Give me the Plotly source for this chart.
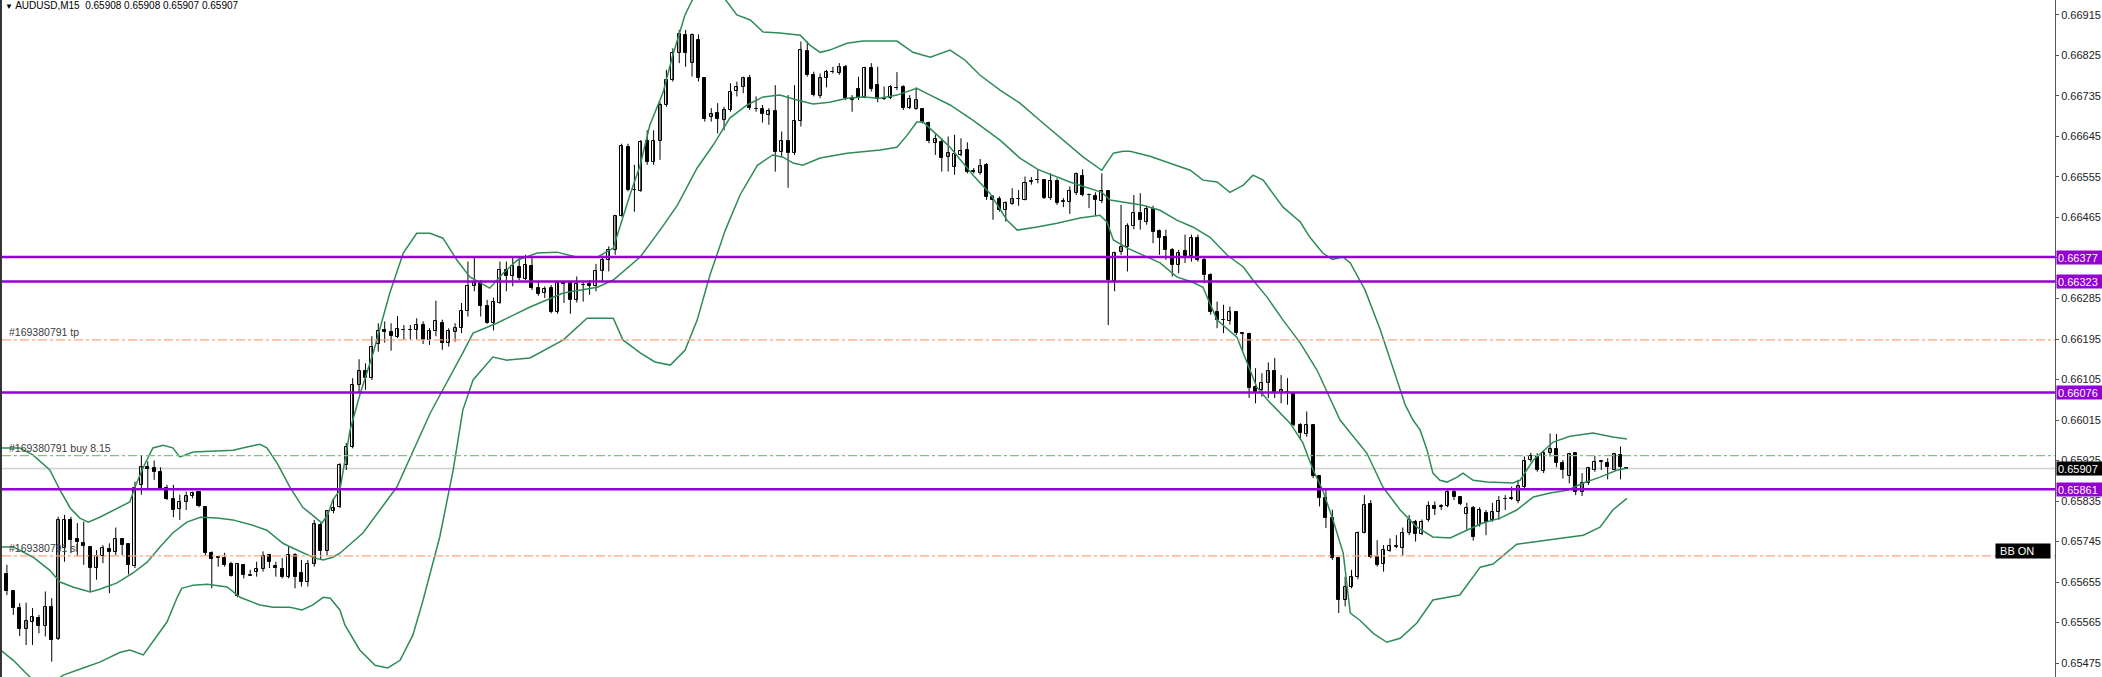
import plotly.graph_objects as go

PT = 1e-5  # values below are in price points (0.00001)

opens = [
    65617,65673,65634,65598,65551,65567,65576,65557,65600,65528,
    65730,65793,65750,65741,65732,65686,65713,65729,65721,65751,
    65739,65691,65871,65910,65908,65900,65863,65840,65817,65832,
    65847,65854,65821,65719,65710,65708,65695,65623,65693,65669,
    65678,65683,65714,65691,65683,65667,65714,65676,65656,65695,
    65782,65723,65812,65821,65915,65954,66092,66125,66108,66184,
    66214,66210,66199,66215,66214,66214,66225,66193,66213,66230,
    66186,66210,66219,66258,66313,66319,66269,66230,66275,66349,
    66334,66356,66328,66358,66308,66298,66308,66256,66321,66319,
    66281,66315,66317,66312,66345,66371,66393,66469,66621,66526,
    66524,66634,66589,66635,66716,66771,66830,66871,66808,66859,
    66774,66689,66698,66681,66704,66745,66754,66774,66706,66705,
    66692,66702,66610,66635,66608,66679,66835,66782,66736,66774,
    66788,66786,66800,66730,66751,66732,66798,66759,66730,66731,
    66752,66754,66709,66707,66706,66674,66630,66632,66599,66578,
    66604,66615,66569,66563,66582,66510,66506,66481,66495,66506,
    66504,66544,66548,66549,66508,66547,66500,66500,66519,66558,
    66514,66513,66501,66523,66324,66389,66399,66445,66476,66454,
    66484,66435,66421,66393,66360,66390,66380,66419,66370,66338,
    66256,66238,66236,66254,66208,66207,66088,66082,66097,66123,
    66076,66078,66073,66004,65984,66004,65890,65841,65797,65708,
    65616,65645,65667,65765,65828,65710,65695,65725,65733,65730,
    65765,65789,65762,65793,65824,65822,65824,65854,65843,65806,
    65819,65782,65809,65793,65811,65839,65840,65834,65867,65926,
    65935,65902,65942,65950,65919,65890,65941,65856,65874,65905,
    65922,65920,65905,65937,65908,
]
highs = [
    65678,65693,65636,65608,65609,65597,65582,65634,65619,65800,
    65804,65800,65786,65789,65734,65726,65737,65741,65776,65752,
    65741,65878,65937,65923,65925,65910,65871,65871,65849,65856,
    65856,65856,65823,65723,65712,65720,65700,65695,65695,65682,
    65700,65723,65715,65700,65708,65734,65719,65704,65704,65793,
    65786,65815,65841,65919,65964,66108,66150,66141,66201,66230,
    66234,66230,66246,66226,66226,66241,66234,66219,66280,66238,
    66219,66230,66275,66367,66377,66326,66282,66287,66367,66367,
    66378,66377,66382,66378,66323,66312,66315,66323,66323,66321,
    66334,66323,66326,66362,66380,66401,66471,66629,66629,66582,
    66637,66659,66659,66722,66793,66841,66882,66882,66874,66872,
    66774,66708,66719,66711,66763,66767,66778,66782,66734,66715,
    66708,66759,66656,66737,66759,66856,66856,66789,66785,66793,
    66800,66808,66804,66737,66778,66800,66808,66800,66756,66759,
    66788,66759,66737,66754,66708,66678,66650,66641,66645,66649,
    66641,66632,66575,66595,66586,66515,66512,66501,66530,66526,
    66556,66555,66571,66549,66563,66552,66508,66534,66565,66572,
    66518,66521,66563,66523,66389,66493,66452,66515,66519,66491,
    66491,66438,66438,66397,66393,66427,66427,66427,66375,66341,
    66278,66271,66267,66256,66210,66209,66130,66119,66143,66153,
    66115,66108,66075,66008,66034,66006,65893,65860,65816,65710,
    65667,65682,65767,65848,65837,65748,65737,65752,65759,65776,
    65804,65793,65794,65834,65834,65828,65859,65863,65846,65831,
    65824,65821,65815,65831,65846,65848,65867,65882,65934,65942,
    65941,65948,65985,65984,65926,65942,65942,65897,65911,65935,
    65926,65930,65941,65956,65908,
]
lows = [
    65600,65626,65582,65535,65515,65515,65541,65534,65478,65526,
    65700,65719,65712,65693,65634,65660,65697,65630,65715,65715,
    65672,65686,65849,65863,65882,65860,65837,65799,65793,65815,
    65841,65821,65715,65641,65689,65689,65667,65621,65663,65669,
    65667,65678,65686,65667,65663,65663,65641,65645,65645,65689,
    65704,65715,65808,65819,65904,65952,66075,66082,66104,66167,
    66187,66169,66197,66193,66193,66193,66184,66182,66201,66171,
    66178,66189,66208,66245,66301,66245,66229,66214,66273,66301,
    66312,66326,66326,66304,66291,66286,66252,66251,66275,66251,
    66276,66278,66293,66301,66323,66345,66382,66467,66523,66478,
    66522,66582,66582,66593,66711,66767,66808,66800,66778,66767,
    66678,66678,66652,66659,66700,66734,66741,66704,66700,66676,
    66671,66567,66600,66531,66604,66667,66778,66734,66730,66754,
    66785,66782,66726,66700,66726,66730,66745,66721,66726,66728,
    66748,66704,66706,66704,66674,66630,66604,66567,66567,66560,
    66601,66563,66563,66560,66504,66460,66478,66456,66493,66491,
    66503,66538,66541,66506,66504,66493,66488,66473,66515,66512,
    66486,66469,66497,66226,66301,66382,66345,66439,66438,66449,
    66408,66382,66371,66334,66341,66364,66367,66367,66319,66249,
    66219,66208,66227,66204,66167,66064,66052,66067,66064,66064,
    66052,66049,66001,65972,65978,65886,65823,65775,65704,65586,
    65601,65641,65661,65763,65708,65689,65678,65722,65730,65713,
    65759,65745,65759,65789,65804,65815,65821,65837,65826,65771,
    65747,65778,65759,65789,65793,65815,65837,65830,65859,65922,
    65900,65897,65934,65910,65885,65874,65848,65846,65871,65900,
    65904,65883,65904,65883,65907,
]
closes = [
    65671,65634,65597,65551,65569,65578,65557,65600,65526,65793,
    65793,65749,65743,65734,65686,65713,65730,65721,65751,65737,
    65693,65865,65910,65907,65899,65862,65839,65815,65832,65847,
    65852,65823,65719,65706,65708,65693,65669,65695,65671,65670,
    65683,65712,65700,65686,65667,65714,65667,65656,65695,65783,
    65723,65813,65819,65915,65954,66092,66125,66108,66177,66213,
    66211,66202,66218,66216,66215,66225,66193,66213,66234,66186,
    66213,66219,66258,66312,66319,66269,66230,66277,66349,66334,
    66358,66330,66360,66308,66295,66306,66255,66319,66318,66281,
    66317,66316,66312,66345,66371,66393,66469,66623,66525,66527,
    66632,66588,66634,66716,66771,66830,66872,66830,66871,66774,
    66684,66696,66683,66704,66743,66754,66774,66708,66707,66696,
    66702,66611,66634,66608,66679,66837,66782,66737,66774,66788,
    66789,66800,66730,66726,66730,66798,66751,66728,66728,66754,
    66753,66709,66728,66726,66678,66635,66639,66598,66608,66606,
    66612,66567,66566,66580,66510,66504,66481,66497,66506,66507,
    66541,66546,66549,66508,66547,66498,66501,66524,66561,66515,
    66515,66503,66523,66326,66387,66399,66445,66476,66460,66484,
    66432,66419,66393,66360,66387,66380,66419,66370,66338,66256,
    66238,66237,66256,66208,66207,66086,66078,66098,66123,66075,
    66082,66075,66004,65987,66004,65890,65841,65797,65708,65616,
    65645,65667,65765,65826,65710,65693,65726,65735,65734,65765,
    65793,65762,65789,65824,65817,65823,65856,65845,65828,65819,
    65754,65815,65789,65811,65836,65840,65841,65868,65925,65935,
    65904,65942,65950,65919,65905,65939,65854,65874,65908,65922,
    65923,65910,65939,65910,65907,
]

# Bollinger band lines (bar position, price points)
bb_upper_x = [0,3.0,5.1,7.7,9.3,10.9,12.4,13.7,15.5,18.2,20.2,21.0,22.3,23.8,25.4,26.9,28.0,30.1,33.2,36.3,
              38.5,40.5,41.6,43.2,45.2,47.2,49.1,50.2,51.1,51.9,53.0,54.6,56.1,58.2,60.8,62.9,65.0,67.1,69.1,71.3,
              73.3,76.4,78.5,80.7,83.8,86.9,90.0,93.2,95.7,98.3,99.9,101.4,103.5,105.0,106.9,108.8,110.8,112.7,115.0,117.1,
              119.1,121.7,124.9,126.4,128.0,129.5,132.2,134.7,140.0,142.5,145.2,147.2,148.3,150.6,153.0,156.1,159.2,162.3,166.6,169.1,
              172.0,173.8,175.3,176.4,179.5,182.6,185.8,187.8,190.0,192.0,194.1,195.6,197.2,200.3,203.0,204.5,206.5,208.0,209.7,210.8,
              213.1,215.5,217.8,219.4,220.6,221.7,222.8,223.7,224.8,225.9,227.5,228.4,230.0,232.2,236.2,237.3,239.4,242.5,245.1,248.7,
              251.8,254.0]
bb_upper_v = [65953,65953,65937,65904,65859,65819,65797,65788,65799,65819,65833,65866,65910,65953,65959,65953,65933,65944,65946,65948,
              65955,65961,65953,65919,65866,65821,65799,65786,65804,65837,65859,65993,66070,66164,66297,66386,66430,66430,66419,66370,
              66333,66308,66341,66370,66386,66388,66377,66377,66397,66515,66581,66670,66744,66826,66915,66970,66979,66959,66915,66904,
              66877,66875,66870,66848,66832,66837,66852,66857,66857,66832,66821,66832,66837,66815,66781,66748,66719,66681,66630,66599,
              66570,66608,66612,66612,66601,66586,66570,66548,66544,66521,66537,66559,66548,66488,66455,66421,66386,66372,66377,66364,
              66304,66215,66115,66048,66015,65993,65948,65897,65881,65877,65888,65897,65881,65877,65875,65881,65926,65966,65979,65986,
              65977,65973]
bb_mid_x = [0,2.0,5.1,7.7,9.3,11.3,14.0,15.5,18.2,20.7,22.9,24.9,26.9,29.1,31.2,33.8,36.3,39.4,41.6,44.1,
            45.7,47.9,49.1,50.4,51.9,53.0,56.6,61.9,67.1,72.2,73.8,77.5,82.7,87.9,93.2,95.7,99.9,103.0,105.7,108.8,
            111.3,113.9,116.6,119.1,121.7,124.4,126.9,129.5,132.2,134.7,137.4,140.0,143.1,145.2,148.3,151.9,156.1,159.2,162.0,167.0,
            172.0,173.3,178.4,181.1,183.7,186.2,188.9,191.6,194.1,195.6,197.8,200.3,203.0,205.6,209.2,213.4,215.9,218.6,221.2,223.7,
            226.4,229.0,231.5,234.2,236.8,239.4,242.0,244.7,247.2,249.8,252.5,254.0]
bb_mid_v = [65733,65733,65710,65681,65655,65644,65633,65639,65653,65675,65699,65733,65764,65788,65799,65797,65793,65781,65770,65741,
            65730,65715,65708,65704,65710,65719,65764,65866,66030,66164,66208,66230,66266,66297,66310,66326,66377,66437,66492,66575,
            66626,66686,66715,66733,66737,66726,66717,66721,66730,66733,66730,66737,66752,66737,66715,66681,66637,66597,66572,66544,
            66521,66504,66492,66481,66459,66444,66421,66381,66355,66326,66288,66237,66186,66126,66015,65941,65866,65815,65777,65755,
            65753,65770,65786,65797,65815,65844,65853,65859,65875,65888,65904,65908]
bb_lower_x = [0,2.0,3.8,5.4,7.7,9.8,12.9,15.5,18.7,20.2,22.3,24.4,26.0,27.6,28.3,30.1,32.3,35.4,37.4,40.5,
              42.6,45.2,47.1,48.8,50.4,51.5,53.0,53.8,56.1,58.5,60.5,62.4,64.4,66.0,68.6,70.7,72.2,73.8,76.9,79.1,
              82.7,87.9,91.6,95.7,97.2,99.9,102.2,104.6,106.9,108.8,110.8,113.2,115.5,118.2,120.6,122.2,123.8,125.3,128.0,132.2,
              137.4,140.0,141.6,143.1,144.1,146.3,148.3,151.9,154.5,157.2,158.8,161.9,165.0,168.6,171.7,172.8,173.8,176.0,178.4,181.1,
              183.7,186.2,187.8,188.9,190.0,193.1,195.1,196.2,198.3,201.4,203.4,205.0,206.5,208.1,209.7,210.8,212.3,214.4,216.5,218.6,
              221.2,223.7,227.9,231.1,233.1,235.3,236.8,239.4,244.7,247.2,249.8,251.8,254.0]
bb_lower_v = [65504,65481,65455,65433,65426,65448,65464,65477,65499,65504,65493,65533,65566,65621,65641,65648,65650,65644,65621,65604,
              65599,65599,65593,65604,65621,65619,65593,65559,65504,65470,65464,65481,65537,65615,65755,65904,66037,66104,66155,66148,
              66153,66193,66241,66241,66193,66164,66144,66137,66170,66237,66337,66437,66515,66581,66604,66599,66586,66581,66597,66608,
              66615,66621,66648,66677,66677,66648,66621,66559,66519,66459,66437,66444,66452,66464,66470,66455,66415,66397,66381,66364,
              66333,66321,66310,66275,66237,66199,66126,66088,66053,66008,65964,65904,65859,65793,65719,65586,65570,65541,65521,65530,
              65564,65615,65626,65688,65695,65721,65739,65744,65755,65759,65777,65815,65841]

# horizontal levels
level_prices = [0.66377, 0.66323, 0.66076, 0.65861]
level_labels = ["0.66377", "0.66323", "0.66076", "0.65861"]
bid_price = 0.65907
bid_label = "0.65907"
order_prices = [0.66193, 0.65936, 0.65713]
order_labels = ["#169380791 tp", "#169380791 buy 8.15", "#169380791 sl"]
order_colors = ["#FFA27F", "#7CC47C", "#FFA27F"]

tick_vals = [0.65475, 0.65565, 0.65655, 0.65745, 0.65835, 0.65925, 0.66015, 0.66105, 0.66195,
             0.66285, 0.66375, 0.66465, 0.66555, 0.66645, 0.66735, 0.66825, 0.66915]
tick_text = ["0.65475", "0.65565", "0.65655", "0.65745", "0.65835", "0.65925", "0.66015", "0.66105", "0.66195",
             "0.66285", "0.66375", "0.66465", "0.66555", "0.66645", "0.66735", "0.66825", "0.66915"]

title_text = "AUDUSD,M15\u00a0\u00a00.65908 0.65908 0.65907 0.65907"

FONT = "Liberation Sans"

n = len(opens)
idx = list(range(n))

wick_x, wick_y = [], []
for i in idx:
    wick_x += [i, i, None]
    wick_y += [lows[i] * PT, highs[i] * PT, None]

bull_x, bull_b, bull_h = [], [], []
bear_x, bear_b, bear_h = [], [], []
for i in idx:
    o, c = opens[i], closes[i]
    if c > o:
        bull_x.append(i); bull_b.append(o * PT); bull_h.append((c - o) * PT)
    else:
        bear_x.append(i); bear_b.append(c * PT); bear_h.append((o - c) * PT)

fig = go.Figure()
fig.add_trace(go.Scatter(x=wick_x, y=wick_y, mode="lines",
                         line=dict(color="#000000", width=1), hoverinfo="skip"))
fig.add_trace(go.Bar(x=bull_x, y=bull_h, base=bull_b, width=0.47,
                     marker=dict(color="#FFFFFF", line=dict(color="#000000", width=1)), hoverinfo="skip"))
fig.add_trace(go.Bar(x=bear_x, y=bear_h, base=bear_b, width=0.47,
                     marker=dict(color="#000000", line=dict(color="#000000", width=1)), hoverinfo="skip"))

BB_COLOR = "#2E8B57"
for bx, bv in [(bb_upper_x, bb_upper_v), (bb_mid_x, bb_mid_v), (bb_lower_x, bb_lower_v)]:
    fig.add_trace(go.Scatter(x=bx, y=[v * PT for v in bv], mode="lines",
                             line=dict(color=BB_COLOR, width=1.5), hoverinfo="skip"))

shapes = []
# left frame border
shapes.append(dict(type="line", xref="paper", yref="paper", x0=-0.0005, x1=-0.0005, y0=0, y1=1,
                   line=dict(color="#333333", width=2)))
# bid line
shapes.append(dict(type="line", xref="paper", yref="y", x0=0, x1=1, y0=bid_price, y1=bid_price,
                   line=dict(color="#D0D0D0", width=1.5), layer="below"))
for p, col in zip(order_prices, order_colors):
    shapes.append(dict(type="line", xref="paper", yref="y", x0=0, x1=1, y0=p, y1=p,
                       line=dict(color=col, width=1.3, dash="dashdot")))
for p in level_prices:
    shapes.append(dict(type="line", xref="paper", yref="y", x0=0, x1=1, y0=p, y1=p,
                       line=dict(color="#9400D3", width=2.5)))

annotations = []
for p, t in zip(level_prices, level_labels):
    annotations.append(dict(xref="paper", x=1, xanchor="left", xshift=1, yref="y", y=p, yanchor="middle",
                            text=t, showarrow=False, bgcolor="#9400D3", width=44, height=11, borderpad=1,
                            align="left", font=dict(family=FONT, size=11, color="#FFFFFF")))
annotations.append(dict(xref="paper", x=1, xanchor="left", xshift=1, yref="y", y=bid_price, yanchor="middle",
                        text=bid_label, showarrow=False, bgcolor="#000000", width=44, height=11, borderpad=1,
                        align="left", font=dict(family=FONT, size=11, color="#FFFFFF")))
for p, t in zip(order_prices, order_labels):
    annotations.append(dict(xref="paper", x=0.0024, xanchor="left", yref="y", y=p, yanchor="bottom",
                            text=t, showarrow=False, font=dict(family=FONT, size=10.5, color="#3C3C3C")))
annotations.append(dict(xref="paper", x=0.9708, xanchor="left", yref="paper", y=0.1854, yanchor="middle",
                        text="\u00a0BB ON", showarrow=False, bgcolor="#000000", width=52, height=12, borderpad=1,
                        align="left", font=dict(family=FONT, size=11, color="#FFFFFF")))
annotations.append(dict(xref="paper", x=0.0005, xanchor="left", yref="paper", y=1, yanchor="top", yshift=2,
                        text='<span style="font-size:8px">\u25BC</span> ' + title_text, showarrow=False,
                        font=dict(family=FONT, size=10, color="#000000")))

fig.update_layout(
    width=2102, height=677,
    margin=dict(l=2, r=47, t=0, b=0),
    paper_bgcolor="#FFFFFF", plot_bgcolor="#FFFFFF",
    showlegend=False, hovermode=False,
    barmode="overlay", bargap=0, bargroupgap=0,
    font=dict(family=FONT, size=11, color="#222222"),
    xaxis=dict(range=[0.234, 320.86], visible=False, fixedrange=True),
    yaxis=dict(range=[0.654439, 0.669483], side="right", showgrid=False, zeroline=False,
               showline=True, linecolor="#555555", linewidth=1, ticks="outside", ticklen=3,
               tickcolor="#555555", tickvals=tick_vals, ticktext=tick_text,
               tickfont=dict(family=FONT, size=11, color="#222222"), fixedrange=True),
    shapes=shapes, annotations=annotations,
)

fig.write_html("out.html", config={"displayModeBar": False},
               post_script="document.body.style.margin='0px';document.body.style.overflow='hidden';")
